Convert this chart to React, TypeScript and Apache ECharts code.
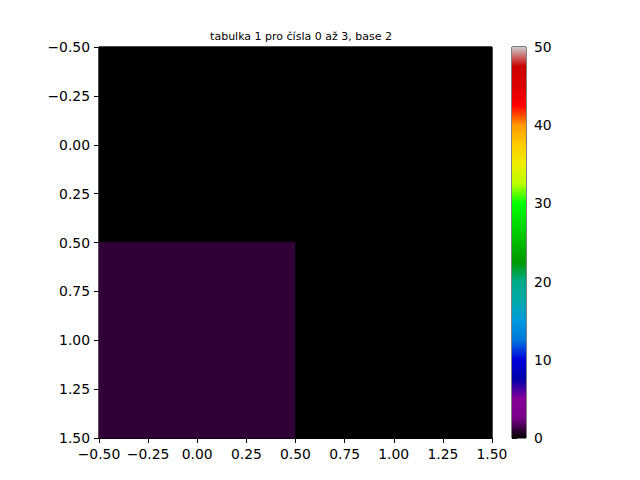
import React, { useEffect, useRef } from "react";
import * as echarts from "echarts";

const titleText = "tabulka 1 pro čísla 0 až 3, base 2";
// image rows (row index = y, column index = x)
const matrixRows: number[][] = [
  [0, 0],
  [1, 0],
];
const axisMin = -0.5;
const axisMax = 1.5;
const axisStep = 0.25;
const colorMin = 0;
const colorMax = 50;
const colorStep = 10;
// nipy_spectral colormap stops (evenly spaced)
const nipySpectral = [
  "#000000", "#770088", "#880099", "#0000aa", "#0000dd", "#0077dd", "#0099dd",
  "#00aaaa", "#00aa88", "#009900", "#00bb00", "#00dd00", "#00ff00", "#bbff00",
  "#eeee00", "#ffcc00", "#ff9900", "#ff0000", "#dd0000", "#cc0000", "#cccccc",
];

const FONT = "DejaVu Sans";

function fmt(v: number) {
  const s = Math.abs(v).toFixed(2);
  return v < 0 ? "\u2212" + s : s;
}

export default function App() {
  const ref = useRef<HTMLDivElement>(null);
  useEffect(() => {
    if (!ref.current) return;
    const chart = echarts.init(ref.current, undefined, { renderer: "svg" });
    const cells: number[][] = [];
    matrixRows.forEach((row, r) => row.forEach((v, c) => cells.push([c, r, v])));
    const n = nipySpectral.length - 1;
    const stops = nipySpectral
      .map((col, i) => ({ offset: 1 - i / n, color: col }))
      .reverse();
    const axisCommon = {
      type: "value" as const,
      min: axisMin,
      max: axisMax,
      interval: axisStep,
      splitLine: { show: false },
      axisLine: { show: true, onZero: false, lineStyle: { color: "#000", width: 1 } },
      axisTick: { show: true, length: 5, lineStyle: { color: "#000" } },
      axisLabel: {
        color: "#000",
        fontFamily: FONT,
        fontSize: 13.9,
        margin: 9,
        formatter: (v: number) => fmt(v),
        showMinLabel: true,
        showMaxLabel: true,
      },
    };
    chart.setOption({
      animation: false,
      backgroundColor: "#fff",
      title: {
        text: titleText,
        left: 296,
        top: 26,
        textAlign: "center",
        textStyle: { fontFamily: FONT, fontSize: 11, fontWeight: "normal", color: "#000" },
      },
      grid: [
        { left: 99, top: 47, width: 393, height: 391, show: true, borderColor: "#000", borderWidth: 1, backgroundColor: "transparent" },
        { left: 512, top: 47, width: 14, height: 391, show: true, borderColor: "#000", borderWidth: 1, backgroundColor: "transparent" },
      ],
      xAxis: [
        { ...axisCommon, gridIndex: 0, position: "bottom" },
        { type: "value", gridIndex: 1, min: 0, max: 1, show: false },
      ],
      yAxis: [
        { ...axisCommon, gridIndex: 0, inverse: true, position: "left" },
        {
          type: "value",
          gridIndex: 1,
          min: colorMin,
          max: colorMax,
          interval: colorStep,
          position: "right",
          splitLine: { show: false },
          axisLine: { show: false },
          axisTick: { show: true, length: 5, lineStyle: { color: "#000" } },
          axisLabel: { color: "#000", fontFamily: FONT, fontSize: 13.9, margin: 8 },
        },
      ],
      visualMap: {
        show: false,
        type: "continuous",
        min: colorMin,
        max: colorMax,
        dimension: 2,
        seriesIndex: 0,
        inRange: { color: nipySpectral },
      },
      series: [
        {
          type: "custom",
          xAxisIndex: 0,
          yAxisIndex: 0,
          data: cells,
          encode: { x: 0, y: 1 },
          renderItem: (params: any, api: any) => {
            const x = api.value(0);
            const y = api.value(1);
            const p1 = api.coord([x - 0.5, y - 0.5]);
            const p2 = api.coord([x + 0.5, y + 0.5]);
            const c = api.visual("color");
            return {
              type: "rect",
              shape: {
                x: Math.min(p1[0], p2[0]),
                y: Math.min(p1[1], p2[1]),
                width: Math.abs(p2[0] - p1[0]),
                height: Math.abs(p2[1] - p1[1]),
              },
              style: { fill: c, stroke: c, lineWidth: 0.8 },
            };
          },
          z: 1,
        },
        {
          type: "custom",
          xAxisIndex: 1,
          yAxisIndex: 1,
          data: [[0, colorMin, 1, colorMax]],
          encode: { x: [0, 2], y: [1, 3] },
          renderItem: (params: any, api: any) => {
            const p1 = api.coord([api.value(0), api.value(3)]);
            const p2 = api.coord([api.value(2), api.value(1)]);
            return {
              type: "rect",
              shape: { x: p1[0], y: p1[1], width: p2[0] - p1[0], height: p2[1] - p1[1] },
              style: {
                fill: new echarts.graphic.LinearGradient(0, 0, 0, 1, stops),
                stroke: null,
              },
            };
          },
          z: 1,
        },
      ],
    });
    return () => chart.dispose();
  }, []);
  return (
    <div
      ref={ref}
      style={{ position: "absolute", left: 0, top: 0, width: 640, height: 480 }}
    />
  );
}
